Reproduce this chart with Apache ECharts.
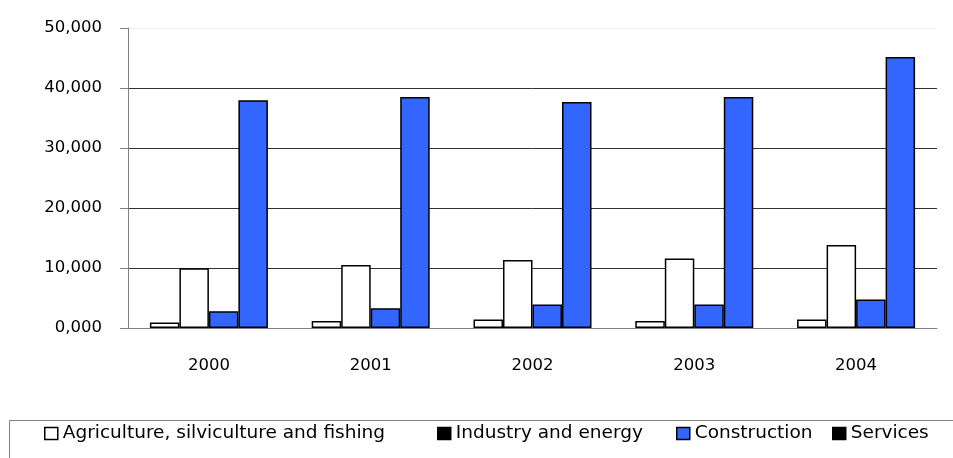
<!DOCTYPE html>
<html>
<head>
<meta charset="utf-8">
<script src="https://cdn.jsdelivr.net/npm/echarts@6/dist/echarts.min.js"></script>
<style>
  html, body { margin: 0; padding: 0; background: #fff; }
  #main { width: 953px; height: 458px; }
</style>
</head>
<body>
<div id="main"></div>
<script>
// data
const years = ['2000', '2001', '2002', '2003', '2004']
const agriculture = [900, 1170, 1400, 1170, 1400]
const industry = [9950, 10500, 11330, 11570, 13830]
const construction = [2780, 3280, 3900, 3900, 4730]
const services = [37950, 38500, 37670, 38500, 45150]
const yTickLabels = ['0,000', '10,000', '20,000', '30,000', '40,000', '50,000']

const FONT = 'DejaVu Sans'
const BLUE = '#3366FF'

const chart = echarts.init(document.getElementById('main'))

function barSeries(name, data, color) {
  return {
    name,
    type: 'bar',
    data,
    barWidth: 29.5,
    barGap: '0%',
    itemStyle: { color, borderColor: '#000', borderWidth: 1.5 },
    emphasis: { disabled: true },
    animation: false
  }
}

// one legend per entry so each one sits where it does in the picture
function legendAt(left, name, iconColor) {
  return {
    left,
    top: 424,
    padding: 0,
    icon: 'rect',
    itemWidth: 13,
    itemHeight: 12,
    itemGap: 0,
    selectedMode: false,
    textStyle: { fontFamily: FONT, fontSize: 18.5, color: '#000' },
    data: [{ name, itemStyle: { color: iconColor, borderColor: '#000', borderWidth: 1.5 } }]
  }
}

const option = {
  backgroundColor: '#fff',
  grid: { left: 128, right: 16, top: 28, bottom: 130 },
  xAxis: {
    type: 'category',
    data: years,
    axisLine: { lineStyle: { color: '#808080', width: 1 } },
    axisTick: { length: 6, lineStyle: { color: '#808080' } },
    axisLabel: { margin: 29, fontFamily: FONT, fontSize: 16.5, color: '#000' }
  },
  yAxis: {
    type: 'value',
    min: 0,
    max: 50000,
    interval: 10000,
    axisLine: { show: true, lineStyle: { color: '#808080', width: 1 } },
    axisTick: { show: true, length: 8, lineStyle: { color: '#808080' } },
    axisLabel: {
      margin: 26,
      fontFamily: FONT,
      fontSize: 16.5,
      color: '#000',
      formatter: (v) => yTickLabels[Math.round(v / 10000)]
    },
    splitLine: {
      lineStyle: { color: ['#333', '#333', '#333', '#333', '#333', '#eeeeee'], width: 1 }
    }
  },
  legend: [
    legendAt(44, 'Agriculture, silviculture and fishing', '#fff'),
    legendAt(437, 'Industry and energy', '#000'),
    legendAt(676, 'Construction', BLUE),
    legendAt(832, 'Services', '#000')
  ],
  graphic: [{
    type: 'rect',
    silent: true,
    shape: { x: 9.5, y: 420.5, width: 960, height: 80 },
    style: { fill: 'none', stroke: '#808080', lineWidth: 1 }
  }],
  series: [
    barSeries('Agriculture, silviculture and fishing', agriculture, '#fff'),
    barSeries('Industry and energy', industry, '#fff'),
    barSeries('Construction', construction, BLUE),
    barSeries('Services', services, BLUE)
  ]
}

chart.setOption(option)
</script>
</body>
</html>
